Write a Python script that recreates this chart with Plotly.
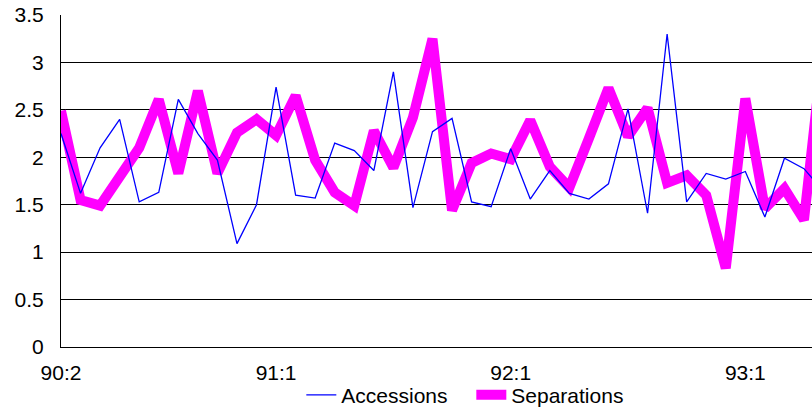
import plotly.graph_objects as go

months = [
    "90:2", "90:3", "90:4", "90:5", "90:6", "90:7", "90:8", "90:9", "90:10", "90:11", "90:12",
    "91:1", "91:2", "91:3", "91:4", "91:5", "91:6", "91:7", "91:8", "91:9", "91:10", "91:11", "91:12",
    "92:1", "92:2", "92:3", "92:4", "92:5", "92:6", "92:7", "92:8", "92:9", "92:10", "92:11", "92:12",
    "93:1", "93:2", "93:3", "93:4", "93:5",
]

accessions = [
    2.25, 1.62, 2.10, 2.40, 1.53, 1.63, 2.61, 2.25, 1.97, 1.09, 1.50,
    2.74, 1.60, 1.57, 2.15, 2.07, 1.86, 2.90, 1.47, 2.27, 2.41, 1.53, 1.48,
    2.09, 1.56, 1.86, 1.62, 1.56, 1.72, 2.51, 1.41, 3.30, 1.53, 1.83, 1.77,
    1.85, 1.37, 1.99, 1.88, 1.64,
]

separations = [
    2.49, 1.55, 1.49, 1.80, 2.10, 2.61, 1.83, 2.70, 1.83, 2.26, 2.40,
    2.23, 2.65, 1.97, 1.63, 1.49, 2.28, 1.89, 2.42, 3.25, 1.44, 1.94, 2.04,
    1.98, 2.39, 1.90, 1.68, 2.20, 2.73, 2.22, 2.52, 1.73, 1.81, 1.60, 0.83,
    2.62, 1.46, 1.67, 1.34, 3.20,
]

tick_labels = ["90:2", "91:1", "92:1", "93:1"]

FONT = "Liberation Sans, Arial, sans-serif"

fig = go.Figure()
fig.add_trace(go.Scatter(
    x=months, y=separations, name="Separations", mode="lines",
    line=dict(color="#FF00FF", width=10), legendrank=2,
))
fig.add_trace(go.Scatter(
    x=months, y=accessions, name="Accessions", mode="lines",
    line=dict(color="#0000FF", width=1.3), legendrank=1,
))

fig.update_layout(
    width=812, height=410,
    margin=dict(l=61, r=0, t=15, b=63, autoexpand=False),
    paper_bgcolor="white", plot_bgcolor="white",
    font=dict(family=FONT, size=21, color="black"),
    showlegend=True,
    legend=dict(
        orientation="h", x=0.32, y=-0.145, xanchor="left", yanchor="middle",
        font=dict(size=21), bgcolor="rgba(0,0,0,0)", borderwidth=0,
        itemwidth=30, entrywidth=125, entrywidthmode="pixels",
    ),
    xaxis=dict(
        type="category", range=[0, 38.41], automargin=False,
        tickmode="array", tickvals=tick_labels, ticktext=tick_labels,
        showgrid=False, showline=True, linecolor="black", linewidth=1,
        ticks="", ticklabelstandoff=7, tickfont=dict(size=21),
    ),
    yaxis=dict(
        range=[0, 3.5], dtick=0.5, tick0=0, automargin=False,
        showgrid=True, gridcolor="black", gridwidth=1,
        showline=True, linecolor="black", linewidth=1,
        zeroline=False, ticks="", ticklabelstandoff=12, tickfont=dict(size=21),
    ),
)

fig.write_html(
    "out.html",
    config={"displayModeBar": False},
    post_script="document.body.style.margin='0';document.body.style.overflow='hidden';",
)
